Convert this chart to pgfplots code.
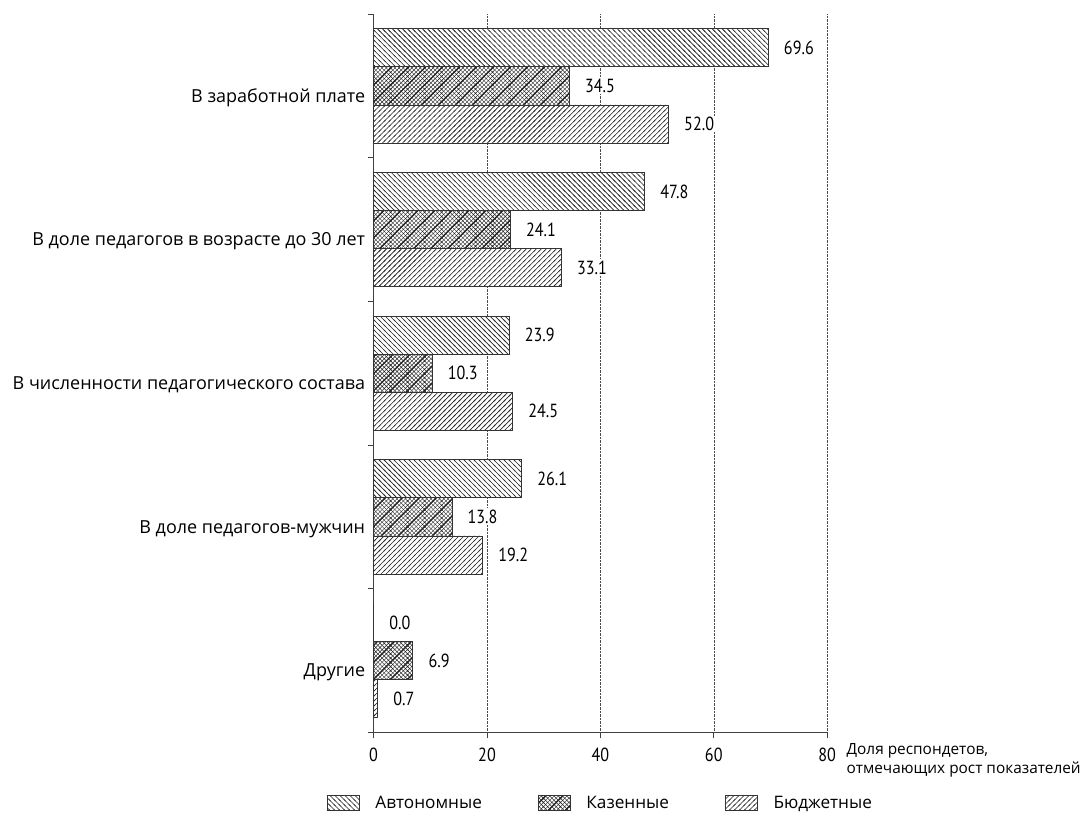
\documentclass[border=0pt]{standalone}
\usepackage{fontspec}
\setmainfont{Open Sans}
\newfontfamily\numfont[FakeStretch=0.85]{PT Sans}
\usepackage{pgfplots}
\pgfplotsset{compat=1.18}
\usetikzlibrary{patterns,patterns.meta}

\pgfdeclarepattern{name=avt, type=uncolored,
  bottom left={\pgfpoint{-1pt}{-1pt}}, top right={\pgfpoint{6pt}{6pt}},
  tile size={\pgfpoint{5pt}{5pt}},
  code={\pgfsetlinewidth{0.6pt}\pgfpathmoveto{\pgfpoint{-1pt}{6pt}}\pgfpathlineto{\pgfpoint{6pt}{-1pt}}\pgfusepath{stroke}}}
\pgfdeclarepattern{name=bud, type=uncolored,
  bottom left={\pgfpoint{-1pt}{-1pt}}, top right={\pgfpoint{6pt}{6pt}},
  tile size={\pgfpoint{5pt}{5pt}},
  code={\pgfsetlinewidth{0.6pt}\pgfpathmoveto{\pgfpoint{-1pt}{-1pt}}\pgfpathlineto{\pgfpoint{6pt}{6pt}}\pgfusepath{stroke}}}
\pgfdeclarepattern{name=kaz, type=uncolored,
  bottom left={\pgfpoint{-1pt}{-1pt}}, top right={\pgfpoint{18pt}{18pt}},
  tile size={\pgfpoint{17pt}{17pt}},
  code={\pgfsetlinewidth{0.4pt}%
    \foreach \k in {-17,-12.75,-8.5,-4.25,0,4.25,8.5,12.75,17}{%
      \pgfpathmoveto{\pgfpoint{\k pt}{0pt}}\pgfpathlineto{\pgfpoint{\k pt+17pt}{17pt}}%
      \pgfpathmoveto{\pgfpoint{\k pt+17pt}{0pt}}\pgfpathlineto{\pgfpoint{\k pt}{17pt}}}%
    \pgfusepath{stroke}%
    \pgfsetlinewidth{1.4pt}%
    \pgfpathmoveto{\pgfpoint{-1pt}{-1pt}}\pgfpathlineto{\pgfpoint{18pt}{18pt}}\pgfusepath{stroke}}}

\begin{document}
\begin{tikzpicture}
\begin{axis}[
  width=454pt, height=719pt, scale only axis,
  xmin=0, xmax=80, ymin=-0.5, ymax=4.5,
  axis x line*=bottom, axis y line*=left,
  axis line style={black!75, line width=0.6pt},
  xtick={0,20,...,80},
  tick align=outside, major tick length=6pt,
  tick style={black!75, line width=0.6pt},
  xmajorgrids=true,
  grid style={densely dotted, black!70, line width=0.5pt},
  ytick={-0.5,0.5,1.5,2.5,3.5,4.5},
  yticklabels={,,,,,},
  extra y ticks={0,1,2,3,4},
  extra y tick labels={Другие, В доле педагогов-мужчин, В численности педагогического состава, В доле педагогов в возрасте до 30 лет, В заработной плате},
  extra y tick style={major tick length=0pt, grid=none, yticklabel style={yshift=-12pt, xshift=-5pt, font=\fontsize{18}{21}\selectfont}},
  xticklabel style={yshift=-6pt, font=\numfont\fontsize{19}{22}\selectfont},
  /pgf/number format/assume math mode=true,
  xlabel={Доля респондетов,\\отмечающих рост показателей},
  xlabel style={at={(rel axis cs:1,0)}, anchor=north west, align=left, xshift=16pt, yshift=-8pt, font=\fontsize{15.4}{18.5}\selectfont},
  xbar, bar width=0.265,
  point meta=x,
  nodes near coords={\pgfmathprintnumber[fixed,fixed zerofill,precision=1]{\pgfplotspointmeta}},
  every node near coord/.append style={font=\numfont\fontsize{19}{22}\selectfont, xshift=14pt, fill=white, inner sep=1.5pt},
  legend columns=3,
  legend style={draw=none, at={(0.5,-0.0988)}, anchor=center, font=\fontsize{17.2}{20}\selectfont,
    /tikz/every odd column/.append style={column sep=14pt},
    /tikz/every even column/.append style={column sep=54pt}},
  legend image code/.code={\draw[#1] (0pt,-7pt) rectangle (32pt,8pt);},
  clip=false,
]
\addplot[bar shift=0.265, draw=black!80, line width=0.6pt, fill=white, postaction={pattern=avt, pattern color=black!85}]
  coordinates {(69.6,4) (47.8,3) (23.9,2) (26.1,1) (0,0)};
\addplot[bar shift=0, draw=black!80, line width=0.6pt, fill=white, postaction={pattern=kaz, pattern color=black!85}]
  coordinates {(34.5,4) (24.1,3) (10.3,2) (13.8,1) (6.9,0)};
\addplot[bar shift=-0.265, draw=black!80, line width=0.6pt, fill=white, postaction={pattern=bud, pattern color=black!85}]
  coordinates {(52.0,4) (33.1,3) (24.5,2) (19.2,1) (0.7,0)};
\legend{Автономные, Казенные, Бюджетные}
\path (rel axis cs:0,0) ++(-374pt,-83pt) coordinate (bl);
\path (rel axis cs:1,1) ++(256pt,14pt) coordinate (tr);
\path (bl) rectangle (tr);
\end{axis}
\end{tikzpicture}
\end{document}
